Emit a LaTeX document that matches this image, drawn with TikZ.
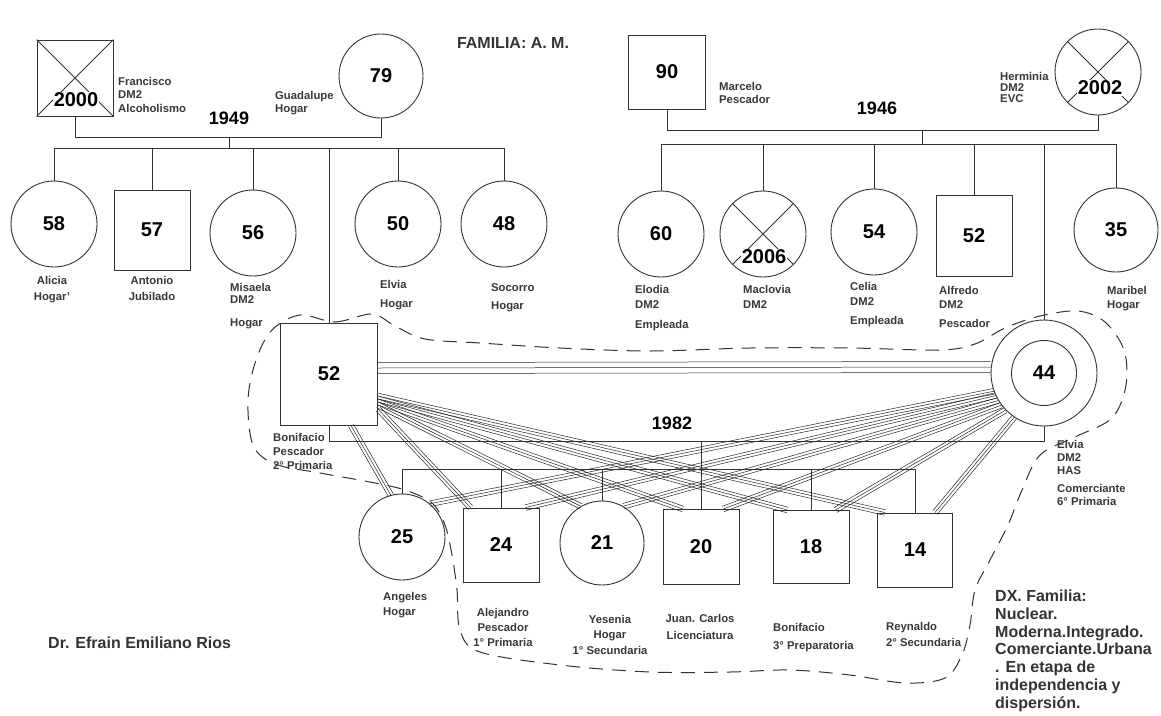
\documentclass[tikz,border=0pt]{standalone}
\usepackage{fontspec}
\setmainfont{Liberation Sans}
\usetikzlibrary{calc}
\newcommand{\numf}{\fontsize{20}{24}\selectfont\bfseries}
\newcommand{\yrf}{\fontsize{18}{22}\selectfont\bfseries}
\newcommand{\bigf}{\fontsize{16}{17.7}\selectfont\bfseries}
\newcommand{\labfs}[1]{\fontsize{11.3}{#1}\selectfont\bfseries}
\newcommand{\triplink}[3][2.8pt]{%
  \draw[rel] (#2) -- (#3);
  \draw[rel] ($(#2)!#1!90:(#3)$) -- ($(#3)!#1!-90:(#2)$);
  \draw[rel] ($(#2)!#1!-90:(#3)$) -- ($(#3)!#1!90:(#2)$);}
\begin{document}
\begin{tikzpicture}[x=1pt,y=-1pt,
  ln/.style={draw=black!80, line width=0.8pt},
  rel/.style={draw=black!85, line width=0.5pt},
  sq/.style={rectangle, draw=black!80, line width=0.9pt, inner sep=0pt, minimum width=76pt, minimum height=76pt, font=\numf},
  circ/.style={circle, draw=black!80, line width=0.9pt, inner sep=0pt, minimum size=86pt, font=\numf},
  num/.style={font=\numf, inner sep=0.5pt},
  yr/.style={font=\yrf, inner sep=0pt},
  lab/.style={text=black!78, align=left, inner sep=0pt, anchor=north west},
  labc/.style={text=black!78, align=center, inner sep=0pt, anchor=north},
  hh/.style={draw=black!80, line width=1pt, dash pattern=on 14pt off 9pt}]
\path[fill=white] (0,0) rectangle (1161,715);
\useasboundingbox (0,0) rectangle (1161,715);

\node[font=\bigf, text=black!80] (title) at (513,43) {FAMILIA: A. M.};

% ---------- paternal family ----------
\node[sq] (fr) at (75,78) {};
\draw[ln] (fr.north west) -- (fr.south east) (fr.north east) -- (fr.south west);
\node[num, fill=white] (frn) at (76,100) {2000};
\node[lab, font=\labfs{13.5}] (frL) at (118,77) {Francisco\\DM2\\Alcoholismo};
\node[circ, minimum size=84pt] (gu) at (381,76) {79};
\node[lab, font=\labfs{13.5}] (guL) at (275,91) {Guadalupe\\Hogar};
\node[yr] (y49) at (229,118) {1949};
\draw[ln] (fr.south) -- (fr.south |- 0,137) -- (gu.south |- 0,137) -- (gu.south);
\coordinate (p1) at (229,137);
\coordinate (s1) at (229,148);
\draw[ln] (p1) -- (s1);

\node[circ] (al) at (54,224) {58};
\node[sq, minimum height=80pt] (an) at (152,230) {57};
\node[circ] (mi) at (253,233) {56};
\node[circ] (el) at (398,224) {50};
\node[circ] (so) at (504,224) {48};
\draw[ln] (al.north |- s1) -- (so.north |- s1);
\foreach \n in {al,an,mi,el,so} \draw[ln] (\n.north |- s1) -- (\n.north);

\node[labc, font=\labfs{16}] (alL) at (52,276) {Alicia\\Hogar'};
\node[labc, font=\labfs{16}] (anL) at (152,276) {Antonio\\Jubilado};
\node[lab, font=\labfs{12}] (miL) at (230,283) {Misaela\\DM2\\[11pt]Hogar};
\node[lab, font=\labfs{19}] (elL) at (380,280) {Elvia\\Hogar};
\node[lab, font=\labfs{18}] (soL) at (491,283) {Socorro\\Hogar};

% ---------- maternal family ----------
\node[sq, minimum width=77pt, minimum height=74pt] (ma) at (667,72) {90};
\node[lab, font=\labfs{13}] (maL) at (719,82) {Marcelo\\Pescador};
\node[circ] (he) at (1098,72) {};
\draw[ln] (he.45) -- (he.225) (he.135) -- (he.315);
\node[num, fill=white] (hen) at (1100,88) {2002};
\node[lab, font=\labfs{11}] (heL) at (1000,72) {Herminia\\DM2\\EVC};
\node[yr] (y46) at (877,108) {1946};
\draw[ln] (ma.south) -- (ma.south |- 0,130) -- (he.south |- 0,130) -- (he.south);
\coordinate (p2) at (922,130);
\coordinate (s2) at (922,144);
\draw[ln] (p2) -- (s2);

\node[circ] (eo) at (661,234) {60};
\node[circ] (mc) at (763,234) {};
\draw[ln] (mc.45) -- (mc.225) (mc.135) -- (mc.315);
\node[num, fill=white] (mcn) at (764,257) {2006};
\node[circ] (ce) at (874,232) {54};
\node[sq, minimum height=81pt] (af) at (974,236) {52};
\node[circ, minimum size=84pt] (mb) at (1116,230) {35};
\draw[ln] (eo.north |- s2) -- (mb.north |- s2);
\foreach \n in {eo,mc,ce,af,mb} \draw[ln] (\n.north |- s2) -- (\n.north);

\node[lab, font=\labfs{15}] (eoL) at (635,285) {Elodia\\DM2\\[5pt]Empleada};
\node[lab, font=\labfs{15}] (mcL) at (743,285) {Maclovia\\DM2};
\node[lab, font=\labfs{15}] (ceL) at (850,282) {Celia\\DM2\\[4pt]Empleada};
\node[lab, font=\labfs{14}] (afL) at (939,286) {Alfredo\\DM2\\[5pt]Pescador};
\node[lab, font=\labfs{14}] (mbL) at (1107,286) {Maribel\\Hogar};

% ---------- nuclear family ----------
\node[sq, minimum width=97pt, minimum height=102pt] (f) at (329,374) {52};
\node[circle, draw=black!80, line width=0.9pt, minimum size=106pt] (m) at (1044,373) {};
\node[circle, draw=black!80, line width=0.9pt, minimum size=65pt, inner sep=0pt, font=\numf] (mi2) at (1044,373) {44};
\draw[ln] (f.north |- s1) -- (f.north);
\draw[ln] (m.north |- s2) -- (m.north);

\node[lab, font=\labfs{14}] (fL) at (273,433) {Bonifacio\\Pescador\\2° Primaria};
\node[lab, font=\labfs{13}] (mL) at (1057,440) {Elvia\\DM2\\HAS\\[5pt]Comerciante\\6° Primaria};

\coordinate (fm) at ($(f.east)+(0,-6)$);
\coordinate (mf) at ($(m.west)+(0,-6)$);
\triplink[5.5pt]{fm}{mf}

\draw[ln] (f.south) -- (f.south |- 0,441) -- (m.south |- 0,441) -- (m.south);
\node[yr] (y82) at (672,423) {1982};

\node[circ] (c25) at (402,537) {25};
\node[sq, minimum height=74pt] (c24) at (501,545) {24};
\node[circ, minimum size=84pt] (c21) at (602,543) {21};
\node[sq, minimum height=75pt] (c20) at (701,547) {20};
\node[sq, minimum height=73pt] (c18) at (811,547) {18};
\node[sq, minimum width=75pt, minimum height=74pt] (c14) at (915,550) {14};

\coordinate (p3) at (701,441);
\coordinate (s3) at (701,469);
\draw[ln] (p3) -- (c20.north);
\draw[ln] (c25.north |- s3) -- (c14.north |- s3);
\foreach \n in {c25,c24,c21,c18,c14} \draw[ln] (\n.north |- s3) -- (\n.north);

\node[lab, font=\labfs{15}] (c25L) at (383,592) {Angeles\\Hogar};
\node[labc, font=\labfs{15}] (c24L) at (503,608) {Alejandro\\Pescador\\1° Primaria};
\node[labc, font=\labfs{15.5}] (c21L) at (610,615) {Yesenia\\Hogar\\1° Secundaria};
\node[labc, font=\labfs{17}] (c20L) at (700,614) {Juan. Carlos\\Licenciatura};
\node[lab, font=\labfs{18}] (c18L) at (773,623) {Bonifacio\\3° Preparatoria};
\node[lab, font=\labfs{16}] (c14L) at (886,622) {Reynaldo\\2° Secundaria};

% ---------- fused relationships (triple lines) ----------
\coordinate (fo14) at ($(f.east)+(0,22)$);
\coordinate (fo18) at ($(f.east)+(0,25)$);
\coordinate (fo20) at ($(f.east)+(0,28)$);
\coordinate (fo21) at ($(f.east)+(0,31)$);
\coordinate (fo24) at ($(f.east)+(0,35)$);
\coordinate (fo25) at ($(f.south)+(22,0)$);
\coordinate (fe25) at (c25.105);
\coordinate (fe24) at ($(c24.north west)+(8,0)$);
\coordinate (fe21) at (c21.120);
\coordinate (fe20) at ($(c20.north)+(-18,0)$);
\coordinate (fe18) at ($(c18.north west)+(15,0)$);
\coordinate (fe14) at ($(c14.north west)+(8,0)$);
\coordinate (mo25) at (m.200);
\coordinate (mo24) at (m.205);
\coordinate (mo21) at (m.211);
\coordinate (mo20) at (m.217);
\coordinate (mo18) at (m.224);
\coordinate (mo14) at (m.236);
\coordinate (me25) at (c25.50);
\coordinate (me24) at ($(c24.north east)+(-14,0)$);
\coordinate (me21) at (c21.60);
\coordinate (me20) at ($(c20.north)+(22,0)$);
\coordinate (me18) at ($(c18.north east)+(-14,0)$);
\coordinate (me14) at ($(c14.north east)+(-18,0)$);
\foreach \k in {14,18,20,21,24,25} {
  \triplink{fo\k}{fe\k}
  \triplink{mo\k}{me\k}
}

% ---------- household boundary ----------
\draw[hh] plot[smooth cycle, tension=0.55] coordinates {
 (300,315) (335,322) (372,314) (395,326) (425,339) (480,343) (560,348)
 (650,351) (750,348) (850,348) (940,350) (975,344) (1005,328) (1040,316)
 (1078,311) (1105,322) (1124,350) (1126,385) (1112,418) (1075,437) (1040,455)
 (1022,490) (1008,525) (990,560) (975,590) (970,625) (962,655) (945,678)
 (905,683) (850,675) (790,670) (730,672) (650,672) (560,665) (480,652)
 (460,630) (457,590) (452,555) (445,525) (432,503) (405,490) (370,482)
 (320,473) (275,464) (253,445) (248,400) (256,360) (272,330)};

% ---------- texts ----------
\node[font=\bigf, text=black!80, align=left, anchor=north west, inner sep=0pt] (dx) at (995,590)
 {DX. Familia:\\Nuclear.\\Moderna.Integrado.\\Comerciante.Urbana\\. En etapa de\\independencia y\\dispersión.};
\node[font=\bigf, text=black!80, anchor=west, inner sep=0pt] (dr) at (48,643) {Dr. Efrain Emiliano Rios};
\end{tikzpicture}
\end{document}
